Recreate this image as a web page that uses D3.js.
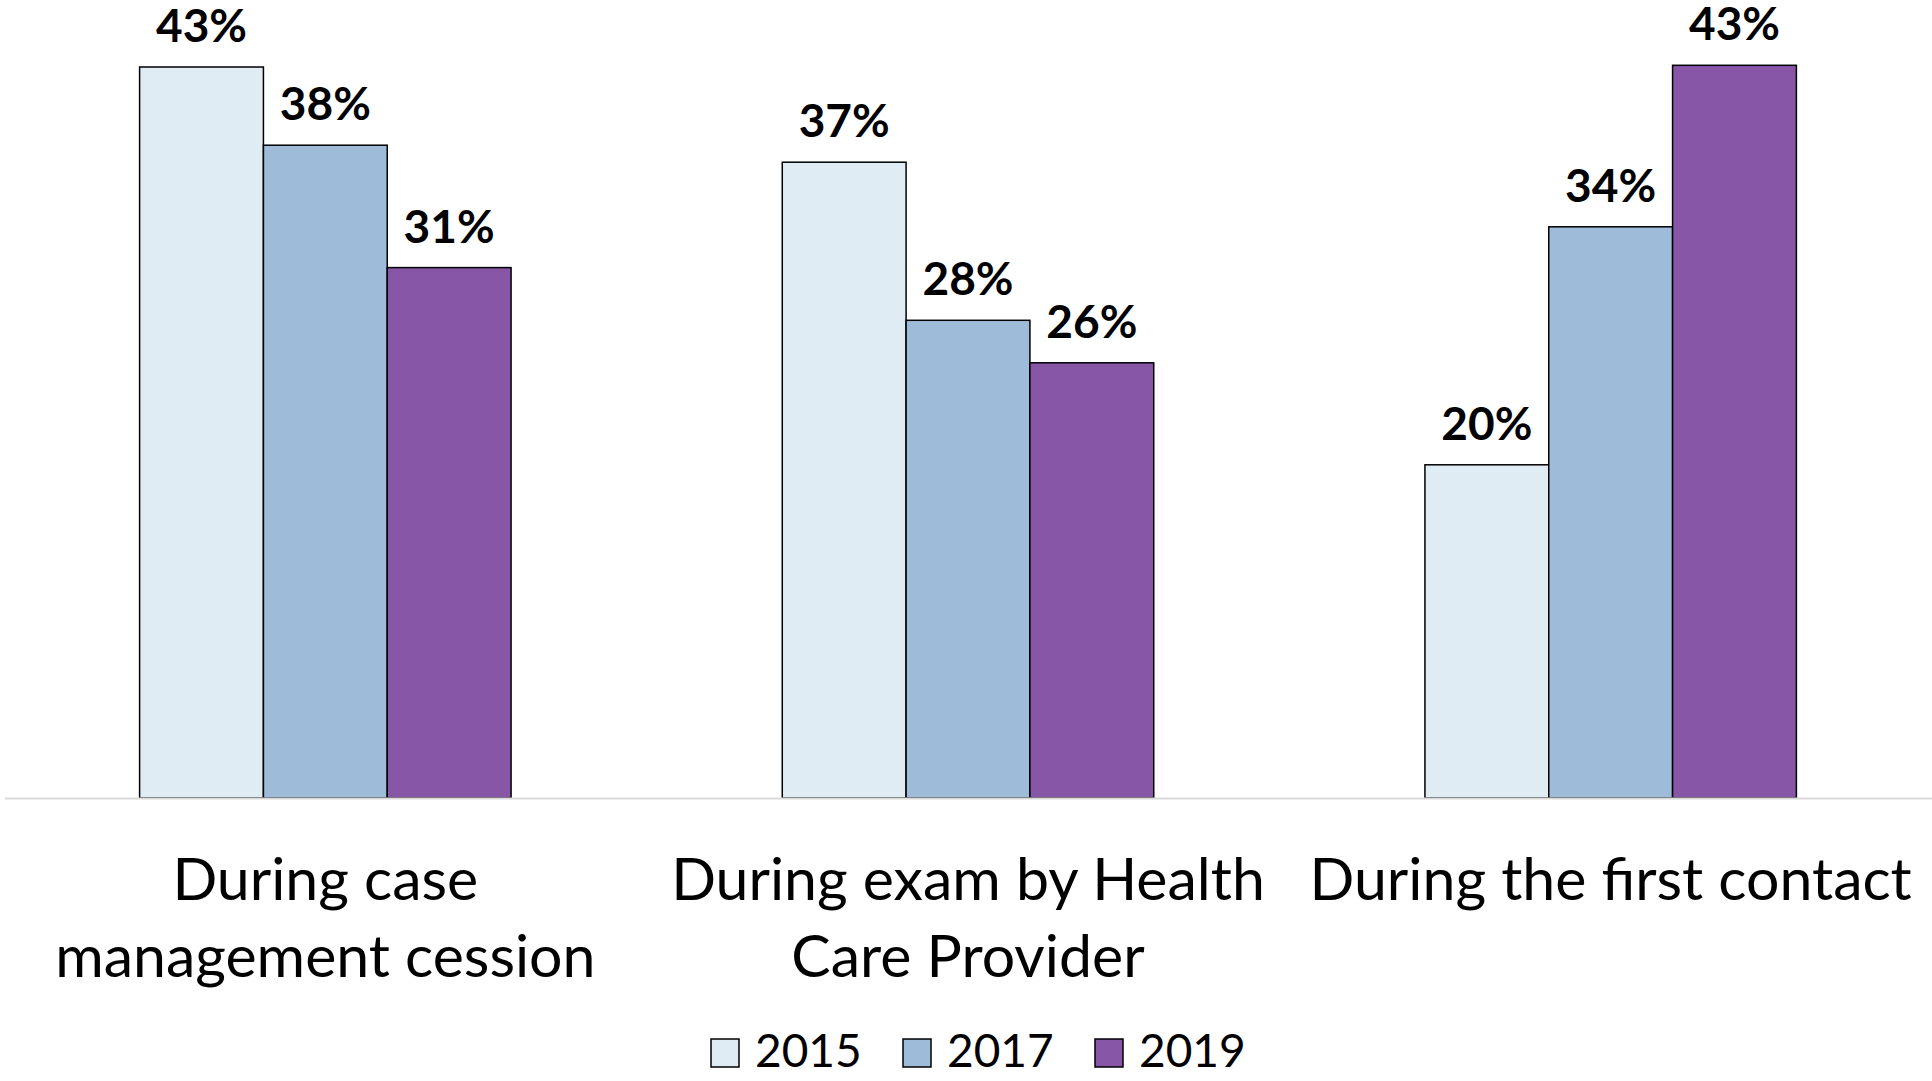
<!DOCTYPE html>
<html>
<head>
<meta charset="utf-8">
<script src="https://cdn.jsdelivr.net/npm/d3@7"></script>
<style>
    body { margin: 0; background: #fff; }
    text { font-family: Lato, "Open Sans", sans-serif; fill: #000; }
</style>
</head>
<body>
<div id="chart"></div>
<script>
// categories (two lines each) and series, values in percent
var categories = [
    [ "During case", "management cession" ],
    [ "During exam by Health", "Care Provider" ],
    [ "During the first contact" ]
];
var years = [ "2015", "2017", "2019" ];
var values2015 = [ 43.0, 37.4, 19.6 ];
var values2017 = [ 38.4, 28.1, 33.6 ];
var values2019 = [ 31.2, 25.6, 43.1 ];
var colors = [ "#e0ecf4", "#9ebcda", "#8856a7" ];

var series = [ values2015, values2017, values2019 ];

var width = 1932, height = 1081,
    baseY = 798;

var svg = d3.select( "#chart" ).append( "svg" )
    .attr( "width", width )
    .attr( "height", height );

var x0 = d3.scaleBand()
    .domain( d3.range( categories.length ) )
    .range( [ 4, 1932 ] )
    .paddingInner( 0.422 )
    .paddingOuter( 0.211 );

var x1 = d3.scaleBand()
    .domain( d3.range( years.length ) )
    .range( [ 0, x0.bandwidth() ] );

var y = d3.scaleLinear()
    .domain( [ 0, 45 ] )
    .range( [ baseY, baseY - 45 * 17 ] );

// bars
var groups = svg.selectAll( ".grp" )
    .data( categories )
    .enter().append( "g" )
    .attr( "class", "grp" )
    .attr( "transform", function( d, i ) { return "translate(" + x0( i ) + ",0)"; } );

groups.selectAll( "rect" )
    .data( function( d, i ) { return series.map( function( s, j ) { return { s: j, v: s[ i ] }; } ); } )
    .enter().append( "rect" )
    .attr( "x", function( d ) { return x1( d.s ); } )
    .attr( "width", x1.bandwidth() )
    .attr( "y", function( d ) { return y( d.v ); } )
    .attr( "height", function( d ) { return y( 0 ) - y( d.v ); } )
    .attr( "fill", function( d ) { return colors[ d.s ]; } )
    .attr( "stroke", "#000" )
    .attr( "stroke-width", 1.5 );

// value labels
groups.selectAll( ".val" )
    .data( function( d, i ) { return series.map( function( s, j ) { return { s: j, v: s[ i ] }; } ); } )
    .enter().append( "text" )
    .attr( "class", "val" )
    .attr( "x", function( d ) { return x1( d.s ) + x1.bandwidth() / 2; } )
    .attr( "y", function( d ) { return y( d.v ) - 25; } )
    .style( "text-anchor", "middle" )
    .style( "font-weight", "bold" )
    .style( "font-size", "46px" )
    .text( function( d ) { return Math.round( d.v ) + "%"; } );

// x axis line
svg.append( "line" )
    .attr( "x1", 5 ).attr( "x2", width )
    .attr( "y1", baseY + 0.5 ).attr( "y2", baseY + 0.5 )
    .attr( "stroke", "#d9d9d9" )
    .attr( "stroke-width", 2 );

// category labels
var lab = svg.selectAll( ".cat" )
    .data( categories )
    .enter().append( "text" )
    .attr( "class", "cat" )
    .style( "text-anchor", "middle" )
    .style( "font-size", "59px" );

lab.selectAll( "tspan" )
    .data( function( d, i ) { return d.map( function( t ) { return { t: t, i: i }; } ); } )
    .enter().append( "tspan" )
    .attr( "x", function( d ) { return x0( d.i ) + x0.bandwidth() / 2; } )
    .attr( "y", function( d, k ) { return 900 + k * 77; } )
    .text( function( d ) { return d.t; } );

// legend
var legend = svg.selectAll( ".leg" )
    .data( years )
    .enter().append( "g" )
    .attr( "class", "leg" )
    .attr( "transform", function( d, i ) { return "translate(" + ( 711 + i * 192 ) + ",1039)"; } );

legend.append( "rect" )
    .attr( "width", 28 ).attr( "height", 28 )
    .attr( "fill", function( d, i ) { return colors[ i ]; } )
    .attr( "stroke", "#000" )
    .attr( "stroke-width", 1.5 );

legend.append( "text" )
    .attr( "x", 44 )
    .attr( "y", 28 )
    .style( "font-size", "46px" )
    .text( function( d ) { return d; } );
</script>
</body>
</html>
